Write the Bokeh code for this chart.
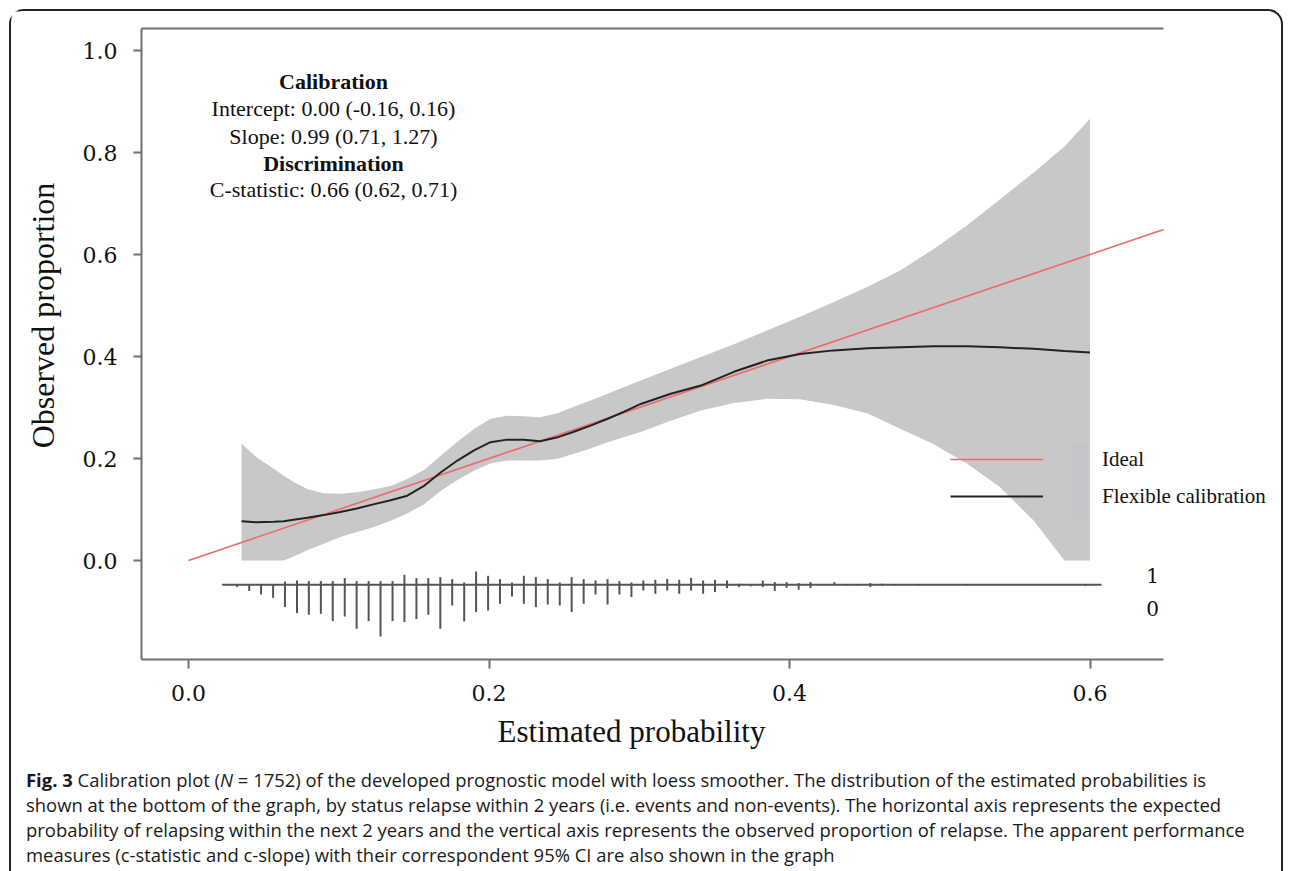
import math
from bokeh.plotting import figure
from bokeh.models import (Range1d, FixedTicker, PrintfTickFormatter, LinearAxis, Label,
                          Legend, LegendItem, BoxAnnotation, ColumnDataSource, Div)
from bokeh.layouts import column
from bokeh.embed import file_html
from bokeh.resources import INLINE

# ---------------- data ----------------
band_x = [0.0353, 0.045, 0.0568, 0.0634, 0.070, 0.079, 0.090, 0.101, 0.112, 0.123,
          0.1346, 0.1456, 0.157, 0.168, 0.179, 0.190, 0.201, 0.212, 0.223, 0.234,
          0.245, 0.256, 0.268, 0.279, 0.290, 0.301, 0.321, 0.341, 0.363, 0.385,
          0.407, 0.4295, 0.452, 0.474, 0.496, 0.518, 0.540, 0.5626, 0.583, 0.600]
band_hi = [0.229, 0.203, 0.180, 0.166, 0.154, 0.140, 0.132, 0.131, 0.134, 0.139,
           0.146, 0.160, 0.178, 0.206, 0.233, 0.258, 0.278, 0.284, 0.283, 0.281,
           0.288, 0.301, 0.314, 0.327, 0.340, 0.353, 0.376, 0.399, 0.424, 0.451,
           0.478, 0.507, 0.537, 0.569, 0.611, 0.657, 0.708, 0.761, 0.812, 0.866]
band_lo = [0.0, 0.0, 0.0, 0.0, 0.008, 0.020, 0.033, 0.046, 0.056, 0.065,
           0.078, 0.092, 0.111, 0.137, 0.158, 0.176, 0.190, 0.196, 0.196, 0.196,
           0.199, 0.209, 0.220, 0.232, 0.242, 0.252, 0.274, 0.294, 0.309, 0.317,
           0.316, 0.305, 0.288, 0.258, 0.228, 0.190, 0.144, 0.078, 0.0, 0.0]
flex_y = [0.077, 0.075, 0.076, 0.077, 0.080, 0.084, 0.089, 0.095, 0.102, 0.110,
          0.118, 0.127, 0.147, 0.173, 0.196, 0.216, 0.232, 0.237, 0.237, 0.234,
          0.241, 0.252, 0.265, 0.278, 0.292, 0.307, 0.327, 0.343, 0.370, 0.392,
          0.405, 0.412, 0.416, 0.418, 0.420, 0.420, 0.418, 0.415, 0.411, 0.408]
ideal_x = [0.0, 0.649]
ideal_y = [0.0, 0.649]

# spike histogram of estimated probabilities (relative frequencies)
spike_x = [0.0324, 0.0404, 0.0483, 0.0563, 0.0642, 0.0722, 0.0801, 0.0881, 0.0960, 0.1040,
           0.1119, 0.1199, 0.1278, 0.1358, 0.1437, 0.1517, 0.1596, 0.1676, 0.1755, 0.1835,
           0.1914, 0.1994, 0.2073, 0.2153, 0.2232, 0.2312, 0.2391, 0.2471, 0.2550, 0.2630,
           0.2709, 0.2789, 0.2868, 0.2948, 0.3027, 0.3107, 0.3186, 0.3266, 0.3345, 0.3425,
           0.3504, 0.3584, 0.3663, 0.3743, 0.3822, 0.3902, 0.3981, 0.4061, 0.4140, 0.4299,
           0.4379, 0.4458, 0.4538, 0.4617, 0.4697, 0.4856, 0.5174, 0.5969]
event_freq = [0, 0, 0, 0, 3.3, 4.3, 3.7, 3.7, 3.7, 6.7,
              3.7, 3.7, 3.7, 3.7, 10, 6.7, 6.7, 7.7, 5.7, 2.3,
              13.3, 9, 5.7, 2.3, 9, 7.7, 5.7, 2.3, 7.7, 5.7,
              4.3, 5.7, 3.7, 2.3, 4.3, 5, 6, 5, 7, 4.3,
              5, 4.3, 1, 0, 4.3, 2.7, 2.7, 1.7, 2.7, 2.7,
              0, 0, 1.7, 1, 0, 0, 0, 0]
nonevent_freq = [2.3, 6.3, 9.7, 13, 22.3, 28.3, 30, 29, 36.3, 31.7,
                 44, 36.3, 51.7, 36.3, 37.3, 34.3, 30, 44, 20.7, 36.7,
                 27.3, 25.7, 19, 11.7, 19, 22.3, 19.7, 20.7, 27.3, 19,
                 9.7, 19.7, 9.7, 12.3, 5.7, 9, 5.7, 9, 5.7, 9,
                 7.3, 3.3, 2.3, 1.5, 2.3, 6.3, 3, 5, 3.3, 0,
                 1, 1, 2.3, 1, 1, 1, 1, 1]
rug_range = [0.0224, 0.6077]

stats_lines = ["Calibration", "Intercept: 0.00 (-0.16, 0.16)", "Slope: 0.99 (0.71, 1.27)",
               "Discrimination", "C-statistic: 0.66 (0.62, 0.71)"]
x_ticks = [0.0, 0.2, 0.4, 0.6]
y_ticks = [0.0, 0.2, 0.4, 0.6, 0.8, 1.0]
x_title = "Estimated probability"
y_title = "Observed proportion"
caption_lines = [
    "<b>Fig. 3</b> Calibration plot (<i>N</i> = 1752) of the developed prognostic model with loess smoother. The distribution of the estimated probabilities is",
    "shown at the bottom of the graph, by status relapse within 2 years (i.e. events and non-events). The horizontal axis represents the expected",
    "probability of relapsing within the next 2 years and the vertical axis represents the observed proportion of relapse. The apparent performance",
    "measures (c-statistic and c-slope) with their correspondent 95% CI are also shown in the graph",
]

# ---------------- helpers: reference pixel -> data ----------------
def dx(px):
    return (px - 188.0) / 1502.5

def dy(py):
    return (560.0 - py) / 510.0

SERIF = "Liberation Serif"
TICKF = "DejaVu Serif"
GRAY = "#707070"
OFF = 11          # padding (9) + border (2) before the figure starts
FIG_W = 1260
FIG_H = 751

# the frame fills the whole canvas; axes are pinned at the box edges
p = figure(width=FIG_W, height=FIG_H, output_backend="svg", toolbar_location=None,
           x_range=Range1d(dx(OFF), dx(OFF + FIG_W)), y_range=Range1d(dy(OFF + FIG_H), dy(OFF)),
           min_border_left=0, min_border_right=0, min_border_top=0, min_border_bottom=0)
p.xgrid.visible = False
p.ygrid.visible = False
p.outline_line_color = None
p.background_fill_color = "white"
p.border_fill_color = "white"

box_x = (dx(141), dx(1163))
box_y = (dy(659), dy(28))
for ax, ticks, out, stand in ((p.xaxis[0], x_ticks, 9, 16), (p.yaxis[0], y_ticks, 8, 16)):
    ax.ticker = FixedTicker(ticks=ticks)
    ax.formatter = PrintfTickFormatter(format="%.1f")
    ax.axis_line_color = GRAY
    ax.axis_line_width = 2
    ax.major_tick_line_color = GRAY
    ax.major_tick_line_width = 2
    ax.major_tick_in = 0
    ax.major_tick_out = out
    ax.minor_tick_line_color = None
    ax.major_label_text_font = TICKF
    ax.major_label_text_font_size = "22px"
    ax.major_label_text_color = "#111111"
    ax.major_label_standoff = stand

p.xaxis[0].fixed_location = box_y[0]
p.xaxis[0].bounds = box_x
p.yaxis[0].fixed_location = box_x[0]
p.yaxis[0].bounds = box_y

top_axis = LinearAxis(ticker=FixedTicker(ticks=[]), major_label_text_font_size="0px",
                      major_tick_line_color=None, minor_tick_line_color=None,
                      axis_line_color=GRAY, axis_line_width=2, bounds=box_x,
                      fixed_location=box_y[1])
p.add_layout(top_axis, "above")

# confidence band
p.varea(x=band_x, y1=band_lo, y2=band_hi, fill_color="#c8c8c8", fill_alpha=1.0)

# spike histogram
base_y = dy(584.3)
scale = 1.0 / 510.0
p.line(x=rug_range, y=[base_y, base_y], line_color="#555555", line_width=2)
up_src = ColumnDataSource(dict(x=spike_x, y0=[base_y] * len(spike_x),
                               y1=[base_y + f * scale for f in event_freq]))
dn_src = ColumnDataSource(dict(x=spike_x, y0=[base_y] * len(spike_x),
                               y1=[base_y - f * scale for f in nonevent_freq]))
p.segment(x0="x", y0="y0", x1="x", y1="y1", source=up_src, line_color="#555555", line_width=2)
p.segment(x0="x", y0="y0", x1="x", y1="y1", source=dn_src, line_color="#555555", line_width=2)

r_ideal = p.line(x=ideal_x, y=ideal_y, line_color="#ee6a6a", line_width=1.6)
r_flex = p.line(x=band_x, y=flex_y, line_color="#222222", line_width=2)

# legend
p.add_layout(BoxAnnotation(left=dx(1070), right=dx(1088), bottom=dy(520), top=dy(442),
                           fill_color="#c3c5cb", fill_alpha=1.0, line_color=None))
legend = Legend(items=[LegendItem(label="Ideal", renderers=[r_ideal]),
                       LegendItem(label="Flexible calibration", renderers=[r_flex])],
                location=(950 - OFF, OFF + FIG_H - 509), glyph_width=93, glyph_height=26,
                label_height=26, spacing=11, padding=0, margin=0, label_standoff=59,
                label_text_font=SERIF, label_text_font_size="21px", label_text_color="#111111",
                background_fill_alpha=0, border_line_alpha=0)
p.add_layout(legend)

def lab(text, xp, yp, size, font, style="normal", angle=0.0):
    p.add_layout(Label(x=dx(xp), y=dy(yp), text=text, text_font=font, text_font_size=size,
                       text_font_style=style, text_align="center", text_baseline="middle",
                       text_color="#111111", angle=angle))

# statistics block
for t, yp in zip(stats_lines, [81, 108, 136, 163, 189]):
    bold = t in ("Calibration", "Discrimination")
    lab(t, 333, yp, "22px", SERIF, style="bold" if bold else "normal")

# rug labels
lab("1", 1152, 575, "20px", TICKF)
lab("0", 1152, 608, "20px", TICKF)

# axis titles
lab(x_title, 631, 731, "31px", SERIF)
lab(y_title, 42, 315, "32px", SERIF, angle=math.pi / 2)

# caption
cap_html = ('<div style="font-family:\'Open Sans\',sans-serif;font-size:18.45px;line-height:25px;'
            'color:#1a1a1a;padding-left:10px;white-space:nowrap;">'
            + "<br>".join(caption_lines) + "</div>")
caption = Div(text=cap_html, width=FIG_W, height=100)

inner = column(p, caption, styles={"border": "2px solid #222222", "border-bottom": "none",
                                   "border-radius": "15px 15px 0 0"})
page = column(inner, styles={"padding-top": "9px", "padding-left": "9px"})

open("out.html", "w").write(file_html(page, INLINE))
